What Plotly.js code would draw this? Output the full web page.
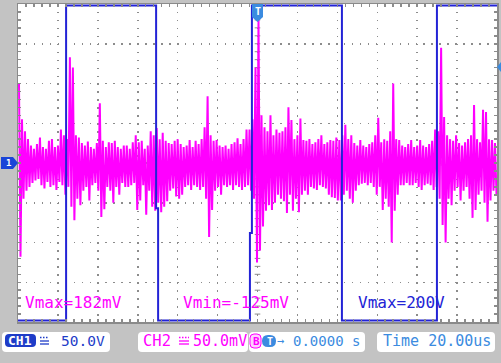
<!DOCTYPE html>
<html><head><meta charset="utf-8">
<script src="https://cdn.plot.ly/plotly-3.0.1.min.js"></script>
<style>html,body{margin:0;padding:0;background:#c3c3c3;}#chart{width:501px;height:363px;}</style>
</head><body><div id="chart"></div>
<script>
// ---- CH1 (50.0 V/div) square wave corners: time (us), volts
const ch1Time = [-120, -95.9, -95.9, -50.8, -50.8, -49.8, -49.8, -3.8, -3.8, -2.8, -2.8, 42.3, 42.3, 89.9, 89.9, 120];
const ch1Volt = [-198, -198, 198, 198, -57, -57, -198, -198, -88, -88, 198, 198, -198, -198, 198, 198];

// ---- CH2 (50.0 mV/div) peak-detect samples: max / min per sample (mV)
const SAMPLE_T0 = -119.5;   // us
const SAMPLE_STEP = 1.5;    // us
const ch2Max = [
 100,55,40,30,22,18,24,32,20,18,
 28,30,20,22,42,35,30,133,120,35,
 32,25,22,27,20,18,25,75,28,20,
 26,25,28,20,18,22,22,18,26,35,
 26,28,18,22,40,35,44,30,38,28,
 25,24,28,30,24,20,22,29,20,28,
 24,30,45,84,35,28,29,22,20,22,
 18,24,26,31,24,30,42,42,55,120,
 182,60,45,40,60,35,42,38,40,45,
 70,54,30,35,56,29,28,30,24,26,
 30,35,24,26,29,28,32,29,35,48,
 30,35,25,22,29,22,20,24,26,35,
 57,26,30,28,40,100,30,29,22,20,
 24,29,20,22,29,22,20,24,28,42,
 40,145,58,35,30,28,35,25,22,26,
 30,35,73,30,26,67,64,30,29,25
];
const ch2Min = [
 -118,-45,-35,-30,-25,-22,-20,-28,-32,-24,
 -30,-28,-34,-24,-28,-40,-30,-55,-72,-45,
 -53,-35,-30,-47,-28,-25,-35,-68,-58,-30,
 -35,-50,-30,-40,-25,-30,-30,-28,-25,-59,
 -47,-28,-65,-35,-55,-60,-50,-62,-55,-48,
 -35,-32,-42,-45,-40,-30,-28,-34,-28,-30,
 -34,-30,-45,-93,-59,-35,-30,-40,-28,-30,
 -28,-34,-28,-30,-34,-30,-28,-35,-45,-125,
 -110,-80,-60,-53,-59,-50,-40,-45,-48,-63,
 -40,-60,-45,-62,-40,-35,-40,-30,-32,-34,
 -28,-30,-32,-40,-43,-44,-47,-47,-40,-35,
 -45,-50,-35,-28,-26,-25,-28,-25,-30,-40,
 -30,-59,-45,-55,-100,-60,-40,-28,-28,-25,
 -28,-28,-25,-30,-34,-28,-26,-28,-34,-30,
 -45,-78,-100,-45,-53,-35,-30,-47,-35,-30,
 -45,-69,-59,-40,-35,-50,-74,-47,-35,-40
];

// ---- screen texts
const measureTexts = ['Vmax=182mV', 'Vmin=-125mV', 'Vmax=200V'];
const ch1Label = 'CH1', ch1Scale = '50.0V';
const ch2Label = 'CH2', ch2Scale = '50.0mV';
const trigText = '0.0000 s';
const timeText = 'Time 20.00us';

// build CH2 zig-zag (max then min in each sample slot)
const ch2X = [], ch2Y = [];
for (let i = 0; i < ch2Max.length; i++) {
  const t = SAMPLE_T0 + i * SAMPLE_STEP;
  ch2X.push(t, t + SAMPLE_STEP / 2);
  ch2Y.push(ch2Max[i], ch2Min[i]);
}

// center-line graticule ticks
const cx = [], cy = [], hx = [], hy = [];
for (let v = -190; v <= 190; v += 10) { cx.push(0); cy.push(v); }
for (let t = -116; t <= 116; t += 4) { hx.push(t); hy.push(0); }

// pixel -> paper helpers
const L = 18, T = 4, W = 479, H = 318;
const px = x => (x - L) / W;
const py = y => (T + H - y) / H;
function rrect(x0, y0, x1, y1, r) {
  return `M${px(x0 + r)},${py(y0)} L${px(x1 - r)},${py(y0)} Q${px(x1)},${py(y0)} ${px(x1)},${py(y0 + r)} ` +
    `L${px(x1)},${py(y1 - r)} Q${px(x1)},${py(y1)} ${px(x1 - r)},${py(y1)} L${px(x0 + r)},${py(y1)} ` +
    `Q${px(x0)},${py(y1)} ${px(x0)},${py(y1 - r)} L${px(x0)},${py(y0 + r)} Q${px(x0)},${py(y0)} ${px(x0 + r)},${py(y0)} Z`;
}
function poly(pts) {
  return 'M' + pts.map(p => `${px(p[0])},${py(p[1])}`).join(' L') + ' Z';
}
const BLUE = '#2323d6', DBLUE = '#1e3cc8', LBLUE = '#3b8be0', MAG = '#ff00ff';
const shp = (path, fill, line) => ({type: 'path', xref: 'paper', yref: 'paper', path: path,
  fillcolor: fill, line: {color: line || fill, width: line ? 1 : 0}, layer: 'above'});
const hl = (x0, x1, y, color, dash) => ({type: 'line', xref: 'paper', yref: 'paper', x0: px(x0), x1: px(x1), y0: py(y), y1: py(y),
  line: {color: color, width: 1.3, dash: dash || 'solid'}, layer: 'above'});
const ann = (text, x, y, color, size, extra) => Object.assign({text: text, xref: 'paper', yref: 'paper', x: px(x), y: py(y),
  xanchor: 'left', yanchor: 'middle', showarrow: false, borderpad: 0,
  font: {family: 'DejaVu Sans Mono', size: size, color: color}}, extra || {});

const shapes = [
  shp(rrect(2, 332, 110, 352, 4), 'white'),
  shp(rrect(138, 332, 248, 352, 4), 'white'),
  shp(rrect(249, 332, 365, 352, 4), 'white'),
  shp(rrect(377, 332, 495, 352, 4), 'white'),
  shp(rrect(5, 334, 36, 347, 4), DBLUE),
  // DC symbols
  hl(40, 49, 337.5, DBLUE, '1.5px,1.5px'), hl(40, 49, 341, DBLUE), hl(40, 49, 344, DBLUE),
  hl(179, 189, 337.5, MAG, '1.5px,1.5px'), hl(179, 189, 341, MAG), hl(179, 189, 344, MAG),
  // B icon and T icon
  shp(rrect(250, 334, 261, 348, 4), '#ffd0ff', MAG),
  shp(rrect(262, 335, 276, 347, 6), LBLUE),
  // markers
  shp(poly([[252, 4], [263, 4], [263, 17], [257.5, 22], [252, 17]]), LBLUE),
  shp(poly([[1, 157], [13, 157], [18, 163], [13, 169], [1, 169]]), '#1a44d8'),
  shp(poly([[501, 62], [497, 67], [501, 72]]), LBLUE)
];

const annotations = [
  ann(measureTexts[0], 24, 302.5, MAG, 16),
  ann(measureTexts[1], 182, 302.5, MAG, 16),
  ann(measureTexts[2], 357, 302.5, BLUE, 16),
  ann(ch1Label, 6.5, 340.5, 'white', 13, {font: {family: 'DejaVu Sans Mono', size: 13, color: 'white', weight: 'bold'}}),
  ann(ch1Scale, 60, 341, DBLUE, 14.5),
  ann(ch2Label, 142, 341, MAG, 15.5),
  ann(ch2Scale, 192, 341, MAG, 15),
  ann('B', 251.5, 341, MAG, 11, {font: {family: 'DejaVu Sans Mono', size: 11, color: MAG, weight: 'bold'}}),
  ann('T', 265.5, 341, 'white', 10, {font: {family: 'DejaVu Sans Mono', size: 10, color: 'white', weight: 'bold'}}),
  ann('→', 276, 340.5, LBLUE, 12),
  ann(trigText, 292, 341, LBLUE, 14),
  ann(timeText, 382, 341, LBLUE, 15),
  ann('T', 254, 11.5, 'white', 10, {font: {family: 'DejaVu Sans Mono', size: 10, color: 'white', weight: 'bold'}}),
  ann('1', 4.5, 163, 'white', 9, {font: {family: 'DejaVu Sans Mono', size: 9, color: 'white', weight: 'bold'}})
];

const data = [
  {x: cx, y: cy, mode: 'markers', type: 'scatter', hoverinfo: 'skip',
   marker: {symbol: 'line-ew', size: 4, line: {color: '#8c8c8c', width: 1}}},
  {x: hx, y: hy, mode: 'markers', type: 'scatter', hoverinfo: 'skip',
   marker: {symbol: 'line-ns', size: 4, line: {color: '#8c8c8c', width: 1}}},
  {x: ch2X, y: ch2Y, mode: 'lines', type: 'scatter', name: 'CH2',
   line: {color: MAG, width: 2}},
  {x: ch1Time, y: ch1Volt, mode: 'lines', type: 'scatter', name: 'CH1',
   line: {color: BLUE, width: 2}}
];

const axisCommon = {
  showticklabels: false, zeroline: false, showgrid: true,
  gridcolor: '#8c8c8c', gridwidth: 1.5, griddash: '1.5px,6.45px',
  showline: true, linecolor: '#8a8a8a', linewidth: 1.5, mirror: 'ticks',
  ticks: 'inside', ticklen: 3, tickwidth: 1.5, tickcolor: '#8c8c8c', fixedrange: true
};

const layout = {
  width: 501, height: 363,
  margin: {l: L, r: 501 - L - W, t: T, b: 363 - T - H},
  paper_bgcolor: '#c3c3c3', plot_bgcolor: 'white',
  showlegend: false,
  xaxis: Object.assign({}, axisCommon, {range: [-120, 120], tick0: 0, dtick: 20,
    minor: {dtick: 4, ticks: 'inside', ticklen: 3, tickwidth: 1.5, tickcolor: '#8c8c8c', showgrid: false}}),
  yaxis: Object.assign({}, axisCommon, {range: [-200, 200], tick0: 0, dtick: 50,
    minor: {dtick: 10, ticks: 'inside', ticklen: 3, tickwidth: 1.5, tickcolor: '#8c8c8c', showgrid: false}}),
  shapes: shapes,
  annotations: annotations
};

Plotly.newPlot('chart', data, layout, {staticPlot: true, displayModeBar: false});
</script></body></html>
